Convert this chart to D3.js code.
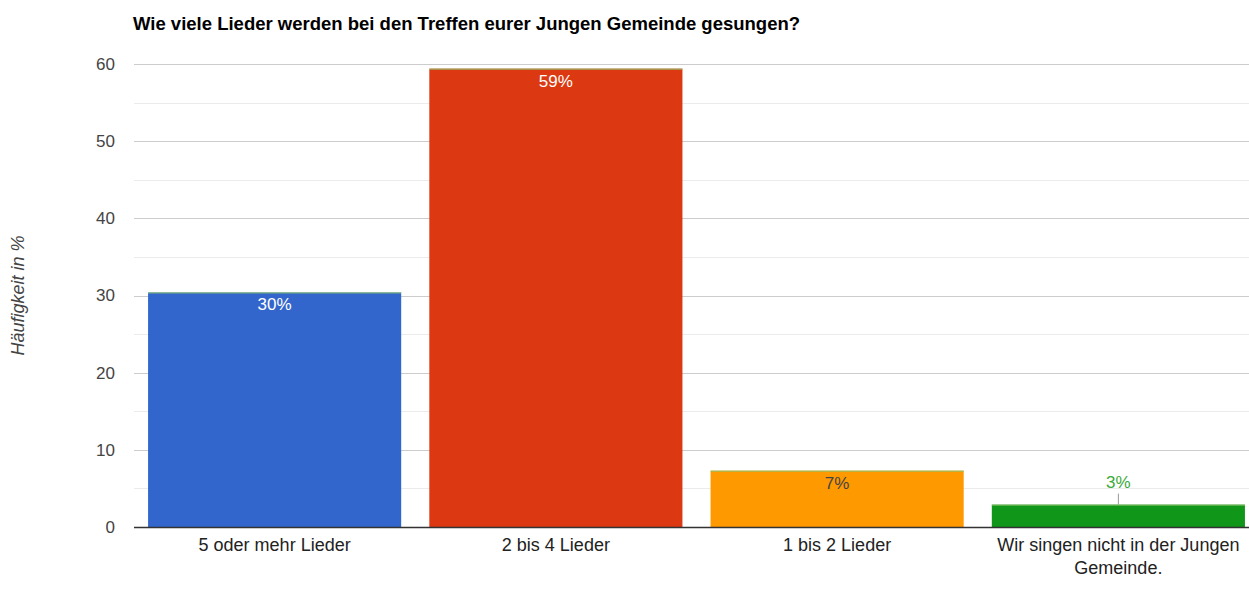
<!DOCTYPE html>
<html>
<head>
<meta charset="utf-8">
<script src="https://cdn.jsdelivr.net/npm/d3@7"></script>
<style>
  body { margin: 0; background: #fff; }
  svg { font-family: Arial, "Liberation Sans", sans-serif; display: block; }
</style>
</head>
<body>
<div id="chart"></div>
<script>
// chart data
const categories = [
  ["5 oder mehr Lieder"],
  ["2 bis 4 Lieder"],
  ["1 bis 2 Lieder"],
  ["Wir singen nicht in der Jungen", "Gemeinde."]
];
const values = [30.4, 59.4, 7.3, 2.9];
const valueLabels = ["30%", "59%", "7%", "3%"];
const barColors = ["#3366cc", "#dc3912", "#ff9900", "#109618"];
const yTicks = [0, 10, 20, 30, 40, 50, 60];
const title = "Wie viele Lieder werden bei den Treffen eurer Jungen Gemeinde gesungen?";
const yLabel = "Häufigkeit in %";

const width = 1249, height = 596;
const margin = { top: 64, right: -10, bottom: 69, left: 134 };

const svg = d3.select("#chart").append("svg")
  .attr("width", width)
  .attr("height", height);

const x = d3.scaleBand()
  .domain(d3.range(categories.length))
  .range([margin.left, width - margin.right])
  .paddingInner(0.1)
  .paddingOuter(0.05);

const y = d3.scaleLinear()
  .domain([0, 60])
  .range([height - margin.bottom, margin.top]);

// gridlines: minor every 5, major every 10
const minor = d3.range(5, 60, 10);
svg.append("g").selectAll("line").data(minor).join("line")
  .attr("x1", margin.left).attr("x2", width)
  .attr("y1", d => Math.round(y(d)) + 0.5).attr("y2", d => Math.round(y(d)) + 0.5)
  .attr("stroke", "#ebebeb");
svg.append("g").selectAll("line").data(yTicks.filter(d => d > 0)).join("line")
  .attr("x1", margin.left).attr("x2", width)
  .attr("y1", d => Math.round(y(d)) + 0.5).attr("y2", d => Math.round(y(d)) + 0.5)
  .attr("stroke", "#cccccc");

// y tick labels
svg.append("g").selectAll("text").data(yTicks).join("text")
  .attr("x", 115)
  .attr("y", d => y(d))
  .attr("dy", "0.35em")
  .attr("text-anchor", "end")
  .attr("font-size", 17)
  .attr("fill", "#444")
  .text(d => d);

// bars
const bars = svg.append("g").selectAll("g").data(values).join("g");
bars.append("rect")
  .attr("x", (d, i) => x(i))
  .attr("y", d => y(d))
  .attr("width", x.bandwidth())
  .attr("height", d => y(0) - y(d))
  .attr("fill", (d, i) => barColors[i]);
// thin highlight at top of bar
bars.append("line")
  .attr("x1", (d, i) => x(i)).attr("x2", (d, i) => x(i) + x.bandwidth())
  .attr("y1", d => y(d) + 0.5).attr("y2", d => y(d) + 0.5)
  .attr("stroke", "#8cc26c").attr("stroke-width", 1);

// value labels
svg.append("g").selectAll("text").data(values).join("text")
  .attr("x", (d, i) => x(i) + x.bandwidth() / 2)
  .attr("y", (d, i) => i === 3 ? y(d) - 17 : y(d) + 18)
  .attr("text-anchor", "middle")
  .attr("font-size", 17)
  .attr("fill", (d, i) => i === 3 ? "#3aaa3a" : (i === 2 ? "#444" : "#fff"))
  .text((d, i) => valueLabels[i]);

// leader line for the small bar label
svg.append("line")
  .attr("x1", x(3) + x.bandwidth() / 2).attr("x2", x(3) + x.bandwidth() / 2)
  .attr("y1", y(values[3]) - 11).attr("y2", y(values[3]))
  .attr("stroke", "#999");

// baseline
svg.append("line")
  .attr("x1", margin.left).attr("x2", width)
  .attr("y1", y(0) + 0.5).attr("y2", y(0) + 0.5)
  .attr("stroke", "#333").attr("stroke-width", 1.5);

// x category labels
const xl = svg.append("g").selectAll("text").data(categories).join("text")
  .attr("text-anchor", "middle")
  .attr("font-size", 18)
  .attr("fill", "#222");
xl.selectAll("tspan").data((d, i) => d.map(t => ({ t, i }))).join("tspan")
  .attr("x", d => x(d.i) + x.bandwidth() / 2)
  .attr("y", (d, j) => y(0) + 24 + j * 23)
  .text(d => d.t);

// title
svg.append("text")
  .attr("x", 133)
  .attr("y", 30)
  .attr("font-size", 18.5)
  .attr("font-weight", "bold")
  .attr("fill", "#000")
  .text(title);

// y axis title
svg.append("text")
  .attr("transform", `translate(24,${(y(0) + y(60)) / 2}) rotate(-90)`)
  .attr("text-anchor", "middle")
  .attr("font-size", 18)
  .attr("font-style", "italic")
  .attr("fill", "#444")
  .text(yLabel);

// truncated x axis title at the bottom edge
svg.append("text")
  .attr("x", 697)
  .attr("y", 601)
  .attr("text-anchor", "middle")
  .attr("font-size", 16)
  .attr("font-style", "italic")
  .attr("fill", "#444")
  .text("...");
</script>
</body>
</html>
